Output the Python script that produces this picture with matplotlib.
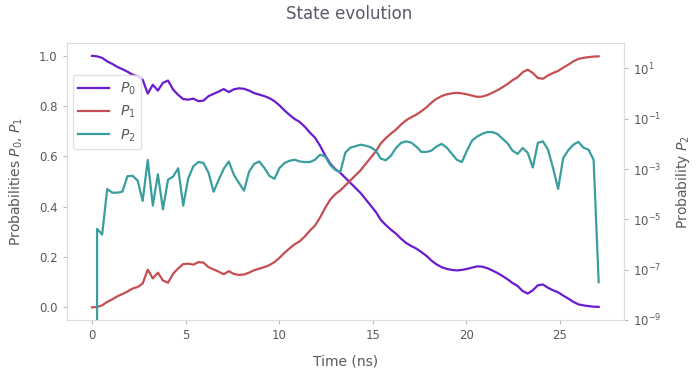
import numpy as np
import matplotlib
matplotlib.use("Agg")
import matplotlib.pyplot as plt
from matplotlib.lines import Line2D

# time grid (ns), 101 samples
time_ns = np.linspace(0, 27.07, 101)

# population of |0>
p0 = [1.000, 0.998, 0.992, 0.978, 0.968, 0.956, 0.947, 0.937, 0.925, 0.919,
      0.905, 0.850, 0.885, 0.862, 0.893, 0.902, 0.866, 0.845, 0.828, 0.826,
      0.830, 0.820, 0.822, 0.840, 0.849, 0.858, 0.868, 0.856, 0.867, 0.871,
      0.869, 0.862, 0.852, 0.846, 0.840, 0.832, 0.820, 0.803, 0.783, 0.765,
      0.749, 0.737, 0.718, 0.695, 0.675, 0.643, 0.605, 0.572, 0.550, 0.535,
      0.515, 0.495, 0.475, 0.455, 0.430, 0.405, 0.380, 0.348, 0.327, 0.309,
      0.293, 0.273, 0.256, 0.244, 0.234, 0.220, 0.205, 0.186, 0.171, 0.160,
      0.153, 0.149, 0.147, 0.149, 0.153, 0.158, 0.163, 0.162, 0.156, 0.147,
      0.137, 0.125, 0.112, 0.097, 0.085, 0.065, 0.055, 0.068, 0.088, 0.091,
      0.078, 0.068, 0.060, 0.047, 0.035, 0.022, 0.012, 0.008, 0.005, 0.003,
      0.002]

# population of |1>
p1 = [0.000, 0.002, 0.008, 0.022, 0.032, 0.044, 0.053, 0.063, 0.075, 0.081,
      0.095, 0.150, 0.115, 0.138, 0.107, 0.098, 0.134, 0.155, 0.172, 0.174,
      0.170, 0.180, 0.178, 0.160, 0.151, 0.142, 0.132, 0.144, 0.133, 0.129,
      0.131, 0.138, 0.148, 0.154, 0.160, 0.168, 0.180, 0.197, 0.217, 0.235,
      0.251, 0.263, 0.282, 0.305, 0.325, 0.357, 0.395, 0.428, 0.450, 0.465,
      0.485, 0.505, 0.525, 0.545, 0.570, 0.595, 0.620, 0.652, 0.673, 0.691,
      0.707, 0.727, 0.744, 0.756, 0.766, 0.780, 0.795, 0.814, 0.829, 0.840,
      0.847, 0.851, 0.853, 0.851, 0.847, 0.842, 0.837, 0.838, 0.844, 0.853,
      0.863, 0.875, 0.888, 0.903, 0.915, 0.935, 0.945, 0.932, 0.912, 0.909,
      0.922, 0.932, 0.940, 0.953, 0.965, 0.978, 0.988, 0.992, 0.995, 0.997,
      0.998]

# leakage population |2> (log axis)
p2 = [0.0, 4.2e-6, 2.5e-6, 1.6e-4, 1.15e-4, 1.15e-4, 1.26e-4, 5.2e-4, 5.4e-4, 3.5e-4,
      5.4e-5, 2.3e-3, 3.5e-5, 6.2e-4, 2.5e-5, 3.8e-4, 5.0e-4, 1.07e-3, 3.5e-5, 4.3e-4,
      1.3e-3, 1.9e-3, 1.75e-3, 7.1e-4, 1.26e-4, 3.7e-4, 1.02e-3, 2.0e-3, 5.9e-4, 2.8e-4,
      1.38e-4, 7.9e-4, 1.6e-3, 2.0e-3, 1.12e-3, 5.4e-4, 4.1e-4, 1.1e-3, 1.74e-3, 2.14e-3,
      2.34e-3, 2.0e-3, 1.9e-3, 1.9e-3, 2.34e-3, 3.7e-3, 3.2e-3, 1.48e-3, 9.3e-4, 7.6e-4,
      4.5e-3, 7.1e-3, 8.1e-3, 9.3e-3, 8.5e-3, 7.4e-3, 5.4e-3, 2.6e-3, 2.24e-3, 3.4e-3,
      6.9e-3, 1.1e-2, 1.26e-2, 1.12e-2, 7.8e-3, 4.8e-3, 4.8e-3, 5.4e-3, 7.9e-3, 1.0e-2,
      7.2e-3, 4.1e-3, 2.34e-3, 1.9e-3, 5.4e-3, 1.35e-2, 1.95e-2, 2.5e-2, 2.95e-2, 2.95e-2,
      2.5e-2, 1.62e-2, 1.07e-2, 5.4e-3, 4.0e-3, 6.9e-3, 4.4e-3, 1.15e-3, 1.1e-2, 1.26e-2,
      5.9e-3, 1.1e-3, 1.62e-4, 2.75e-3, 5.6e-3, 9.3e-3, 1.2e-2, 7.1e-3, 5.9e-3, 2.34e-3,
      3.2e-8]

c0 = "#6a1bd0"
c1 = "#c44e52"
c2 = "#3a9e9e"
grey = "#5a5a5a"
spine_c = "#dddddd"
lw = 1.6

plt.rcParams["font.family"] = "DejaVu Sans"

fig = plt.figure(figsize=(6.99, 3.76), dpi=100)
ax = fig.add_axes([0.0954, 0.149, 0.7973, 0.7359])
ax2 = ax.twinx()

ax.plot(time_ns, p0, color=c0, lw=lw)
ax.plot(time_ns, p1, color=c1, lw=lw)
ax2.plot(time_ns, p2, color=c2, lw=lw)

ax2.set_yscale("log")
ax2.set_ylim(1e-9, 1e2)
ax2.set_yticks([1e-9, 1e-7, 1e-5, 1e-3, 1e-1, 1e1])
ax2.minorticks_off()
ax.set_ylim(-0.05, 1.05)
ax.set_yticks([0, 0.2, 0.4, 0.6, 0.8, 1.0])
ax.set_xticks([0, 5, 10, 15, 20, 25])

for a in (ax, ax2):
    for s in a.spines.values():
        s.set_color(spine_c)
    a.tick_params(colors=grey, labelsize=8.5, length=3, width=0.8)
    a.tick_params(axis="both", color="#bbbbbb")

ax.set_xlabel("Time (ns)", color=grey, fontsize=10, labelpad=9)
ax.set_ylabel("Probabilities $P_0$, $P_1$", color=grey, fontsize=10, labelpad=10)
ax2.set_ylabel("Probability $P_2$", color=grey, fontsize=10, labelpad=9)
fig.suptitle("State evolution", color="#5c5868", fontsize=12, y=0.988)

handles = [Line2D([], [], color=c0, lw=lw),
           Line2D([], [], color=c1, lw=lw),
           Line2D([], [], color=c2, lw=lw)]
leg = ax.legend(handles, ["$P_0$", "$P_1$", "$P_2$"], loc="upper left",
                bbox_to_anchor=(0.011, 0.885), borderaxespad=0, fontsize=10,
                labelcolor=grey, handlelength=2.2, framealpha=0.85,
                edgecolor=spine_c, fancybox=True)

fig.savefig("out.png", dpi=100)
